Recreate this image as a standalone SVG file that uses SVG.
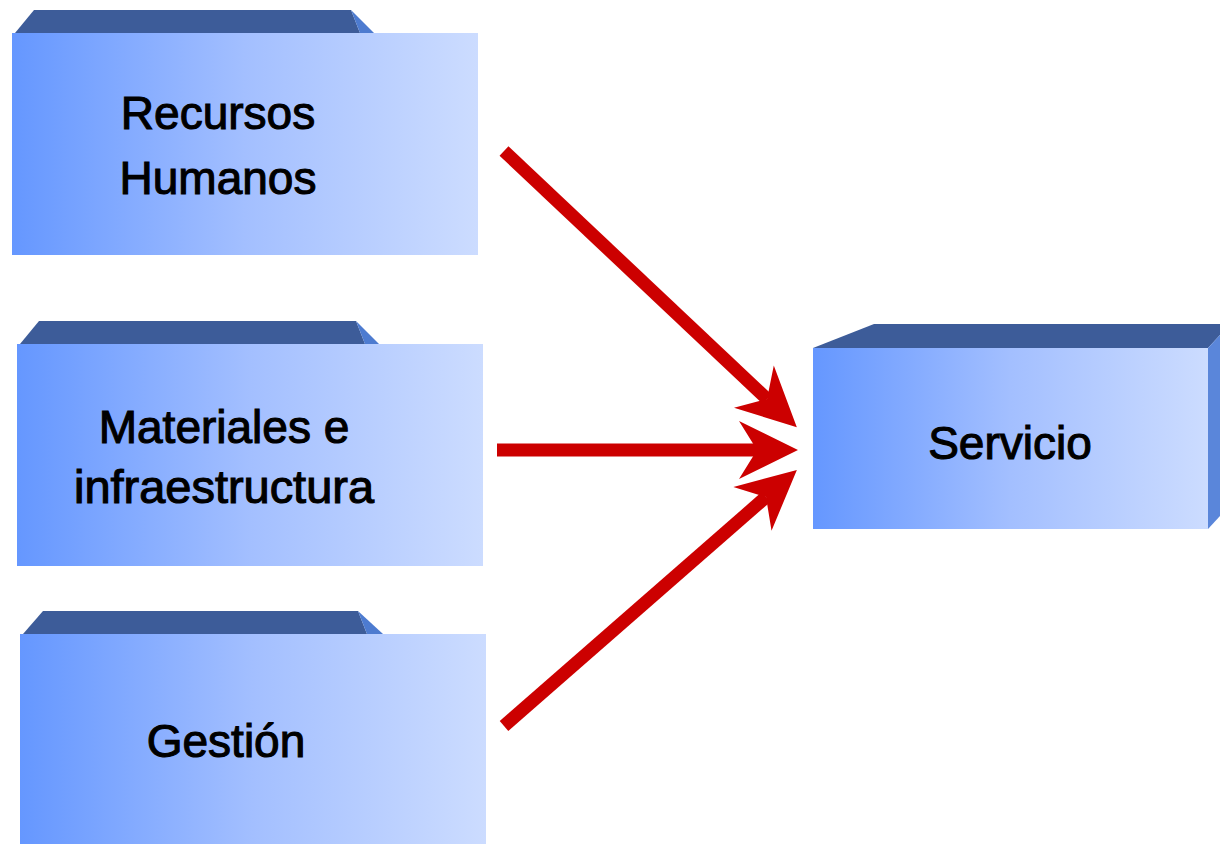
<svg xmlns="http://www.w3.org/2000/svg" width="1220" height="844" viewBox="0 0 1220 844">
<defs>
<linearGradient id="front" x1="0" y1="0" x2="1" y2="0">
<stop offset="0" stop-color="#6597FF"/>
<stop offset="0.5" stop-color="#A3BFFF"/>
<stop offset="1" stop-color="#CCDCFF"/>
</linearGradient>
<marker id="head" markerUnits="userSpaceOnUse" orient="auto" markerWidth="70" markerHeight="70" refX="18" refY="0" viewBox="-1 -35 70 70" overflow="visible">
<path d="M0,-29 L59,0 L0,29 L18,0 Z" fill="#CC0000"/>
</marker>
<style>
.top{fill:#3D5C99}
.tri{fill:#4D7BD0}
.side{fill:#5A86DA}
.front{fill:url(#front)}
.lbl{font-family:"Liberation Sans",Arial,sans-serif;font-size:46px;fill:#000;stroke:#000;stroke-width:1.1px;text-anchor:middle}
.arrow{stroke:#CC0000;stroke-width:13;fill:none;marker-end:url(#head)}
</style>
</defs>
<rect width="1220" height="844" fill="#FFFFFF"/>
<g id="recursos-humanos">
<polygon class="top" points="15,33 34,10 351,10 360,33"/>
<polygon class="tri" points="351,10 374,33 360,33"/>
<rect class="front" x="12" y="33" width="466" height="222"/>
<text class="lbl" x="218" y="129">Recursos</text>
<text class="lbl" x="218" y="194">Humanos</text>
</g>
<g id="materiales">
<polygon class="top" points="20,344 39,321 356,321 365,344"/>
<polygon class="tri" points="356,321 379,344 365,344"/>
<rect class="front" x="17" y="344" width="466" height="222"/>
<text class="lbl" x="224" y="443">Materiales e</text>
<text class="lbl" x="224" y="503" textLength="300" lengthAdjust="spacingAndGlyphs">infraestructura</text>
</g>
<g id="gestion">
<polygon class="top" points="23,634 43,611 358,611 367,634"/>
<polygon class="tri" points="358,611 383,634 367,634"/>
<rect class="front" x="20" y="634" width="466" height="210"/>
<text class="lbl" x="226" y="757">Gestión</text>
</g>
<g id="servicio">
<polygon class="top" points="813,348 874,324 1220,324 1220,335 1208,348"/>
<polygon class="side" points="1208,348 1220,335 1220,516 1208,529"/>
<rect class="front" x="813" y="348" width="395" height="181"/>
<text class="lbl" x="1010" y="459">Servicio</text>
</g>
<g id="connectors">
<line class="arrow" x1="504" y1="151" x2="767" y2="399"/>
<line class="arrow" x1="497" y1="450" x2="757" y2="450"/>
<line class="arrow" x1="504" y1="726" x2="766" y2="497"/>
</g>
</svg>
